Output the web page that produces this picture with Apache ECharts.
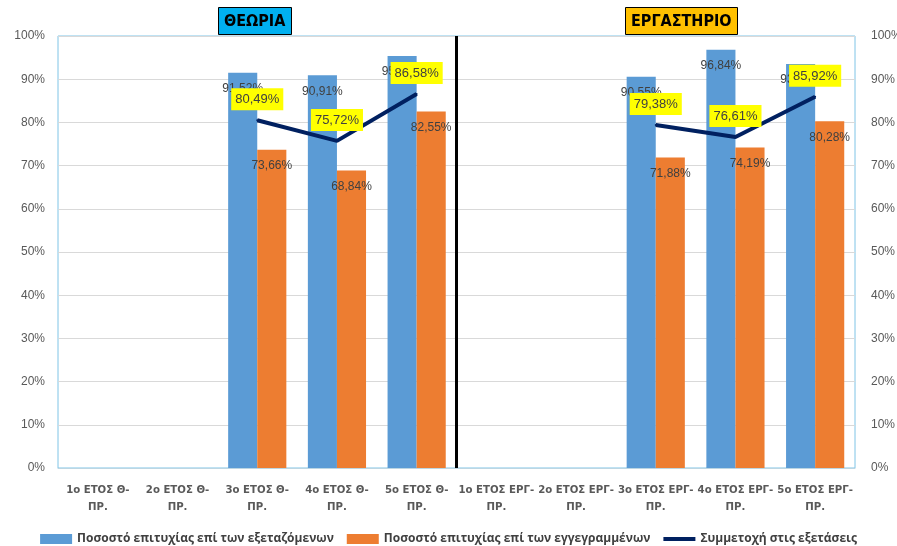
<!DOCTYPE html>
<html>
<head>
<meta charset="utf-8">
<script src="https://cdn.jsdelivr.net/npm/echarts@6/dist/echarts.min.js"></script>
<style>
html,body{margin:0;padding:0;background:#fff;}
#c{width:897px;height:546px;}
</style>
</head>
<body>
<div id="c"></div>
<script>
var categories = [
  "1ο ΕΤΟΣ Θ-ΠΡ.", "2ο ΕΤΟΣ Θ-ΠΡ.", "3ο ΕΤΟΣ Θ-ΠΡ.", "4ο ΕΤΟΣ Θ-ΠΡ.", "5ο ΕΤΟΣ Θ-ΠΡ.",
  "1ο ΕΤΟΣ ΕΡΓ-ΠΡ.", "2ο ΕΤΟΣ ΕΡΓ-ΠΡ.", "3ο ΕΤΟΣ ΕΡΓ-ΠΡ.", "4ο ΕΤΟΣ ΕΡΓ-ΠΡ.", "5ο ΕΤΟΣ ΕΡΓ-ΠΡ."
];
var seriesNames = [
  "Ποσοστό επιτυχίας επί των εξεταζόμενων",
  "Ποσοστό επιτυχίας επί των εγγεγραμμένων",
  "Συμμετοχή στις εξετάσεις"
];
var passExamined  = [null, null, 91.52, 90.91, 95.37, null, null, 90.55, 96.84, 93.50];
var passEnrolled  = [null, null, 73.66, 68.84, 82.55, null, null, 71.88, 74.19, 80.28];
var participation = [null, null, 80.49, 75.72, 86.58, null, null, 79.38, 76.61, 85.92];
var yTicks = [0, 10, 20, 30, 40, 50, 60, 70, 80, 90, 100];
var groupTitles = ["ΘΕΩΡΙΑ", "ΕΡΓΑΣΤΗΡΙΟ"];
var separatorAt = 5; // boundary between the two groups (in category units)

function pct(v){ return String(v.toFixed(2)).replace('.', ',') + '%'; }

var chart = echarts.init(document.getElementById('c'));
var font = '"Liberation Sans", "DejaVu Sans", sans-serif';
var narrow = '"Liberation Sans Narrow", "DejaVu Sans Condensed", Roboto, sans-serif';
chart.setOption({
  animation: false,
  textStyle: { fontFamily: font },
  title: [
    { text: groupTitles[0], left: 218, top: 7, padding: [7, 6, 5, 6],
      backgroundColor: '#00b0f0', borderColor: '#000', borderWidth: 1,
      textStyle: { fontSize: 16, fontWeight: 'bold', color: '#000', fontFamily: narrow } },
    { text: groupTitles[1], left: 625, top: 7, padding: [7, 6, 5, 6],
      backgroundColor: '#ffc000', borderColor: '#000', borderWidth: 1,
      textStyle: { fontSize: 16, fontWeight: 'bold', color: '#000', fontFamily: narrow } }
  ],
  legend: {
    bottom: -4, left: 'center', itemWidth: 32, itemHeight: 10, itemGap: 13,
    data: [
      { name: seriesNames[0], icon: 'rect' },
      { name: seriesNames[1], icon: 'rect' },
      { name: seriesNames[2], icon: 'path://M0,0 L32,0 L32,4 L0,4 Z' }
    ],
    textStyle: { fontSize: 12, color: '#404040', fontWeight: 'bold', fontFamily: '"Open Sans", "Liberation Sans", sans-serif' }
  },
  grid: { left: 58, right: 42, top: 36, bottom: 78, outerBoundsMode: 'none', containLabel: false,
    show: true, borderColor: '#7fc4e6', borderWidth: 1, backgroundColor: 'transparent' },
  xAxis: [
    { type: 'category', data: categories,
      axisLine: { show: true, lineStyle: { color: '#bcd6e3' } },
      axisTick: { show: false },
      axisLabel: { interval: 0, fontSize: 11.3, fontWeight: 'bold', color: '#595959', lineHeight: 17, margin: 14,
        fontFamily: narrow,
        formatter: function (v) { return v.replace('-', '-\n'); } } },
    { type: 'value', min: 0, max: 10, show: false }
  ],
  yAxis: [
    { type: 'value', min: yTicks[0], max: yTicks[yTicks.length - 1], interval: 10, position: 'left',
      axisLine: { show: false }, axisTick: { show: false },
      axisLabel: { formatter: '{value}%', fontSize: 12, color: '#595959', margin: 13 },
      splitLine: { lineStyle: { color: '#d9d9d9' } } },
    { type: 'value', min: yTicks[0], max: yTicks[yTicks.length - 1], interval: 10, position: 'right',
      axisLine: { show: false }, axisTick: { show: false },
      axisLabel: { formatter: '{value}%', fontSize: 12, color: '#595959', margin: 16 },
      splitLine: { show: false } }
  ],
  series: [
    { name: seriesNames[0], type: 'bar', data: passExamined, barGap: '0%', barCategoryGap: '27%',
      itemStyle: { color: '#5b9bd5' },
      label: { show: true, position: 'insideTop', distance: 10, fontSize: 12, color: '#404040',
        formatter: function (p) { return pct(p.value); } } },
    { name: seriesNames[1], type: 'bar', data: passEnrolled,
      itemStyle: { color: '#ed7d31' },
      label: { show: true, position: 'insideTop', distance: 10, fontSize: 12, color: '#404040',
        formatter: function (p) { return pct(p.value); } } },
    { name: seriesNames[2], type: 'line', data: participation, symbol: 'circle', symbolSize: 2,
      showSymbol: true, connectNulls: false,
      lineStyle: { color: '#002060', width: 4 }, itemStyle: { color: '#002060' },
      label: { show: true, position: 'top', distance: 9, fontSize: 13, color: '#404040',
        backgroundColor: '#ffff00', padding: [5, 4, 4, 4],
        formatter: function (p) { return pct(p.value); } },
      z: 5 },
    { name: 'sep', type: 'line', xAxisIndex: 1, data: [], silent: true,
      markLine: { silent: true, symbol: 'none', label: { show: false },
        lineStyle: { color: '#000', width: 3, type: 'solid' },
        data: [{ xAxis: separatorAt }] } }
  ]
});
</script>
</body>
</html>
